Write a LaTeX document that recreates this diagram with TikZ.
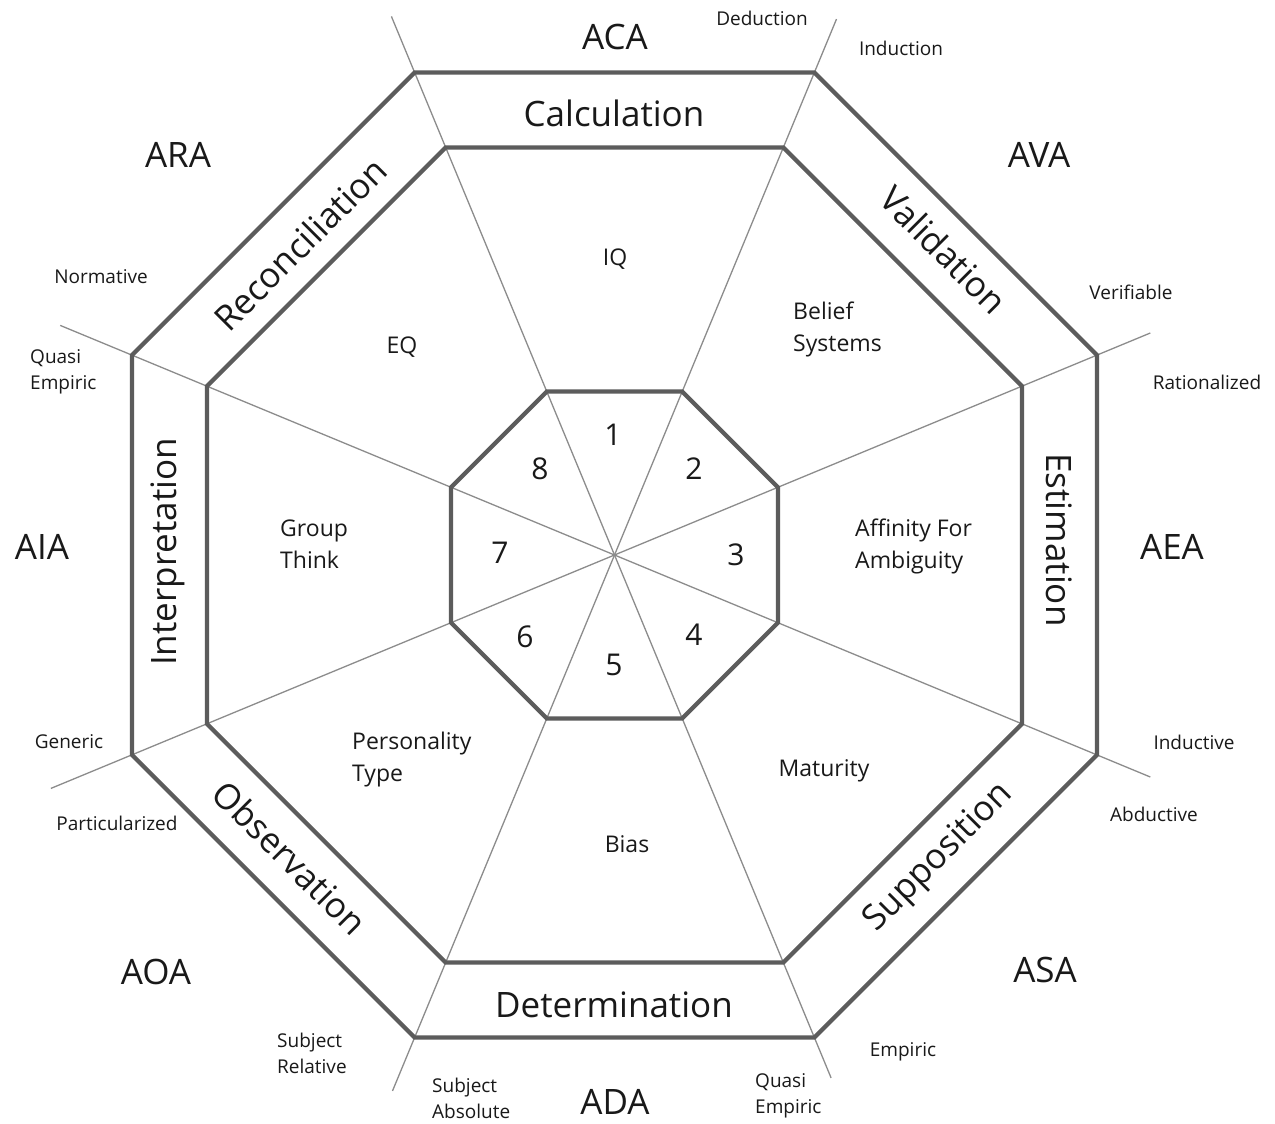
\documentclass[tikz,border=0pt]{standalone}
\usepackage{fontspec}
\setmainfont{Open Sans}
\definecolor{octgray}{RGB}{92,92,92}
\definecolor{raygray}{RGB}{140,140,140}
\definecolor{txt}{RGB}{25,25,25}
\begin{document}
\begin{tikzpicture}[x=1pt,y=-1pt,
  oct/.style={draw=octgray, line width=4.2pt, line join=miter},
  ray/.style={draw=raygray, line width=1.3pt},
  big/.style={font=\fontsize{35}{42}\selectfont, text=txt, inner sep=0pt},
  sect/.style={font=\fontsize{35}{42}\selectfont, text=txt, inner sep=0pt},
  mid/.style={font=\fontsize{23}{32}\selectfont, text=txt, inner sep=0pt, align=left},
  small/.style={font=\fontsize{19}{26}\selectfont, text=txt, inner sep=0pt, align=left},
  num/.style={font=\fontsize{30}{36}\selectfont, text=txt, inner sep=0pt}]
\fill[white] (0,0) rectangle (1275,1124);
\useasboundingbox (0,0) rectangle (1275,1124);

% centre and ray end points
\coordinate (O) at (614.5,555);
\coordinate (e1) at (391.4,16.4);
\coordinate (e2) at (836.5,19.1);
\coordinate (e3) at (1150.3,333.0);
\coordinate (e4) at (1150.3,777.0);
\coordinate (e5) at (831.1,1077.9);
\coordinate (e6) at (392.5,1090.9);
\coordinate (e7) at (50.9,788.4);
\coordinate (e8) at (60.2,325.4);
\foreach \e in {e1,e2,e3,e4,e5,e6,e7,e8} \draw[ray] (O) -- (\e);

% octagons
\draw[oct] (414.6,72.5) -- (814.4,72.5) -- (1097,355.1) -- (1097,754.9) -- (814.4,1037.5) -- (414.6,1037.5) -- (132,754.9) -- (132,355.1) -- cycle;
\draw[oct] (445.7,147.5) -- (783.3,147.5) -- (1022,386.2) -- (1022,723.8) -- (783.3,962.5) -- (445.7,962.5) -- (207,723.8) -- (207,386.2) -- cycle;
\draw[oct] (546.8,391.5) -- (682.2,391.5) -- (778,487.3) -- (778,622.7) -- (682.2,718.5) -- (546.8,718.5) -- (451,622.7) -- (451,487.3) -- cycle;

% outer labels
\node[big] (aca) at (615,37) {ACA};
\node[big] (ava) at (1039,155) {AVA};
\node[big] (aea) at (1172,547) {AEA};
\node[big] (asa) at (1045,970) {ASA};
\node[big] (ada) at (615,1102) {ADA};
\node[big] (aoa) at (156,972) {AOA};
\node[big] (aia) at (42,547) {AIA};
\node[big] (ara) at (178,155) {ARA};

% ring labels
\node[sect] (calc) at (614,113) {Calculation};
\node[sect, rotate=-45] (vali) at (944,250) {Validation};
\node[sect, rotate=-90] (esti) at (1059,540) {Estimation};
\node[sect, rotate=45] (supp) at (939,858) {Supposition};
\node[sect] (dete) at (614,1005) {Determination};
\node[sect, rotate=-45] (obse) at (290,858) {Observation};
\node[sect, rotate=90] (inte) at (168,552) {Interpretation};
\node[sect, rotate=45] (reco) at (300,244) {Reconciliation};

% small labels
\node[small] (ded) at (762,18) {Deduction};
\node[small] (ind) at (901,48) {Induction};
\node[small] (ver) at (1131,292) {Verifiable};
\node[small] (rat) at (1207,382) {Rationalized};
\node[small] (inv) at (1194,742) {Inductive};
\node[small] (abd) at (1154,814) {Abductive};
\node[small] (emp) at (903,1052) {Empiric};
\node[small, anchor=west] (qe1) at (755,1096) {Quasi\\Empiric};
\node[small, anchor=west] (sab) at (432,1098) {Subject\\Absolute};
\node[small, anchor=west] (srel) at (277,1053) {Subject\\Relative};
\node[small] (par) at (117,823) {Particularized};
\node[small] (gen) at (69,742) {Generic};
\node[small, anchor=west] (qe2) at (30,372) {Quasi\\Empiric};
\node[small] (nor) at (101,277) {Normative};

% middle ring labels
\node[mid] (iq) at (615,259) {IQ};
\node[mid, anchor=west] (bel) at (793,329) {Belief\\Systems};
\node[mid, anchor=west] (aff) at (855,546) {Affinity For\\Ambiguity};
\node[mid] (mat) at (824,771) {Maturity};
\node[mid] (bia) at (627,844) {Bias};
\node[mid, anchor=west] (per) at (352,760) {Personality\\Type};
\node[mid, anchor=west] (grp) at (280,544) {Group\\Think};
\node[mid] (eq) at (402,347) {EQ};

% numbers
\node[num] (n1) at (613,435) {1};
\node[num] (n2) at (694,469) {2};
\node[num] (n3) at (736,555) {3};
\node[num] (n4) at (694,635) {4};
\node[num] (n5) at (614,665) {5};
\node[num] (n6) at (525,637) {6};
\node[num] (n7) at (500,553) {7};
\node[num] (n8) at (540,469) {8};
\end{tikzpicture}
\end{document}
